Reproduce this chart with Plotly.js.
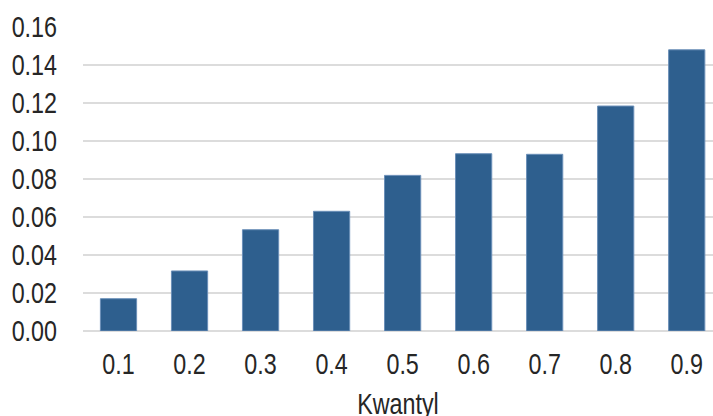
<!DOCTYPE html>
<html>
<head>
<meta charset="utf-8">
<script src="https://cdn.plot.ly/plotly-3.0.1.min.js"></script>
<style>
  html, body { margin: 0; padding: 0; background: #ffffff; }
  #chart { width: 713px; height: 416px; }
</style>
</head>
<body>
<div id="chart"></div>
<script>
// Quantile levels and the value for each quantile
const quantiles = ['0.1', '0.2', '0.3', '0.4', '0.5', '0.6', '0.7', '0.8', '0.9'];
const values = [0.0170, 0.0316, 0.0533, 0.0630, 0.0819, 0.0933, 0.0930, 0.1184, 0.1480];
const yTicks = [0, 0.02, 0.04, 0.06, 0.08, 0.10, 0.12, 0.14, 0.16];
const yTickText = ['0.00', '0.02', '0.04', '0.06', '0.08', '0.10', '0.12', '0.14', '0.16'];

const font = "'Liberation Sans Narrow', 'Arial Narrow', 'Liberation Sans', Arial, sans-serif";
const textColor = '#262626';
const fontSize = 29.5;

const trace = {
  type: 'bar',
  x: quantiles,
  y: values,
  marker: {
    color: '#2e5f8e',
    line: { color: '#6b8fb8', width: 1 }
  },
  hoverinfo: 'x+y'
};

const layout = {
  width: 713,
  height: 416,
  margin: { l: 83, r: 0, t: 27, b: 85 },
  paper_bgcolor: '#ffffff',
  plot_bgcolor: '#ffffff',
  bargap: 0.49,
  showlegend: false,
  font: { family: font, size: fontSize, color: textColor },
  xaxis: {
    type: 'category',
    range: [-0.5, 8.37],
    showgrid: false,
    showline: false,
    ticks: '',
    ticklabelstandoff: 12,
    tickfont: { family: font, size: fontSize, color: textColor },
    title: {
      text: 'Kwantyl',
      font: { family: font, size: fontSize, color: textColor }
    }
  },
  yaxis: {
    range: [0, 0.16],
    tickvals: yTicks,
    ticktext: yTickText,
    showgrid: true,
    gridcolor: '#dcdcdc',
    gridwidth: 1.5,
    zeroline: true,
    zerolinecolor: '#dcdcdc',
    zerolinewidth: 1.5,
    showline: false,
    ticks: '',
    ticklabelstandoff: 25,
    tickfont: { family: font, size: fontSize, color: textColor }
  }
};

// Narrow the label glyphs so the regular sans face reads like a condensed one,
// and sit the axis title a little lower, close to the bottom edge
function finishText(gd) {
  gd.querySelectorAll('.xtick text, .ytick text, .g-xtitle text').forEach(function (el) {
    const w = el.getComputedTextLength();
    el.setAttribute('lengthAdjust', 'spacingAndGlyphs');
    el.setAttribute('textLength', (w * 0.79).toFixed(2));
  });
  const title = gd.querySelector('.g-xtitle text');
  if (title) {
    title.setAttribute('y', (parseFloat(title.getAttribute('y')) + 4).toFixed(2));
  }
}

Plotly.newPlot('chart', [trace], layout, { displayModeBar: false, staticPlot: true })
  .then(finishText);
</script>
</body>
</html>
